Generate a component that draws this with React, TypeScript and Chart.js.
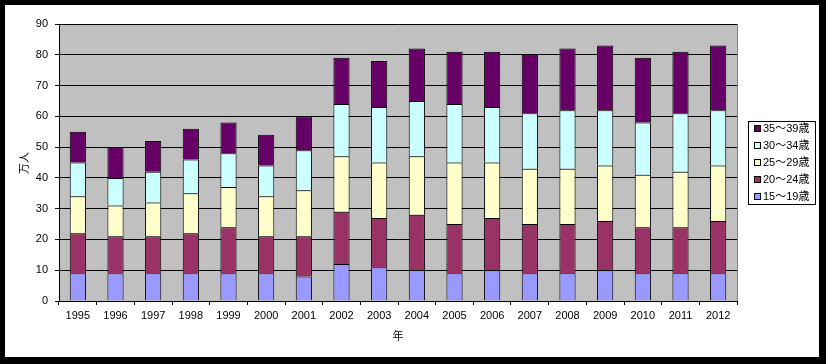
import React, { useEffect, useRef } from "react";
import { Chart, registerables } from "chart.js";

Chart.register(...registerables);

const years = ["1995","1996","1997","1998","1999","2000","2001","2002","2003","2004","2005","2006","2007","2008","2009","2010","2011","2012"];
const age15_19 = [9, 9, 9, 9, 9, 9, 8, 12, 11, 10, 9, 10, 9, 9, 10, 9, 9, 9];
const age20_24 = [13, 12, 12, 13, 15, 12, 13, 17, 16, 18, 16, 17, 16, 16, 16, 15, 15, 17];
const age25_29 = [12, 10, 11, 13, 13, 13, 15, 18, 18, 19, 20, 18, 18, 18, 18, 17, 18, 18];
const age30_34 = [11, 9, 10, 11, 11, 10, 13, 17, 18, 18, 19, 18, 18, 19, 18, 17, 19, 18];
const age35_39 = [10, 10, 10, 10, 10, 10, 11, 15, 15, 17, 17, 18, 19, 20, 21, 21, 20, 21];
const seriesLabels = ["15～19歳", "20～24歳", "25～29歳", "30～34歳", "35～39歳"];
const seriesColors = ["#9999FF", "#993366", "#FFFFCC", "#CCFFFF", "#660066"];
const yTicks = [0, 10, 20, 30, 40, 50, 60, 70, 80, 90];
const xTitle = "年";
const yTitle = "万人";

const FONT = "'Liberation Sans', Arial, 'Noto Sans CJK JP', sans-serif";

const framePlugin = {
  id: "frame",
  beforeDraw(chart: any) {
    const { ctx, width, height, chartArea } = chart;
    ctx.save();
    ctx.fillStyle = "#000";
    ctx.fillRect(0, 0, width, height);
    ctx.fillStyle = "#fff";
    ctx.fillRect(5, 5, width - 12, height - 12);
    ctx.fillStyle = "#C0C0C0";
    ctx.fillRect(chartArea.left, chartArea.top, chartArea.right - chartArea.left, chartArea.bottom - chartArea.top);
    ctx.restore();
  },
  afterDraw(chart: any) {
    const { ctx, chartArea } = chart;
    ctx.save();
    ctx.strokeStyle = "#808080";
    ctx.lineWidth = 1;
    ctx.beginPath();
    ctx.moveTo(chartArea.right + 0.5, chartArea.top);
    ctx.lineTo(chartArea.right + 0.5, chartArea.bottom);
    ctx.stroke();
    ctx.fillStyle = "#000";
    ctx.font = "11px " + FONT;
    ctx.textAlign = "center";
    ctx.textBaseline = "middle";
    ctx.fillText(xTitle, (chartArea.left + chartArea.right) / 2, 337);
    ctx.save();
    ctx.translate(25, 163);
    ctx.rotate(-Math.PI / 2);
    ctx.fillText(yTitle, 0, 0);
    ctx.restore();
    const bx = 748, by = 121, bw = 67, bh = 83;
    ctx.fillStyle = "#fff";
    ctx.fillRect(bx, by, bw, bh);
    ctx.strokeStyle = "#000";
    ctx.strokeRect(bx + 0.5, by + 0.5, bw, bh);
    const ds = chart.data.datasets;
    ctx.textAlign = "left";
    for (let i = 0; i < ds.length; i++) {
      const d = ds[ds.length - 1 - i];
      const cy = 129 + i * 17;
      ctx.fillStyle = d.backgroundColor;
      ctx.fillRect(754, cy - 4, 7, 7);
      ctx.strokeStyle = "#000";
      ctx.strokeRect(754.5, cy - 3.5, 6, 6);
      ctx.fillStyle = "#000";
      ctx.fillText(d.label, 763, cy);
    }
    ctx.restore();
  },
};

export default function App() {
  const ref = useRef<HTMLCanvasElement>(null);
  useEffect(() => {
    if (!ref.current) return;
    const data = [age15_19, age20_24, age25_29, age30_34, age35_39];
    const chart = new Chart(ref.current, {
      type: "bar",
      data: {
        labels: years,
        datasets: data.map((vals, i) => ({
          label: seriesLabels[i],
          data: vals,
          backgroundColor: seriesColors[i],
          borderColor: "#000",
          borderWidth: 1,
          borderSkipped: "start",
          barPercentage: 0.43,
          categoryPercentage: 1,
        })),
      },
      options: {
        responsive: false,
        animation: false,
        layout: { padding: { left: 0, right: 89, top: 24, bottom: 0 } },
        plugins: { legend: { display: false }, tooltip: { enabled: false } },
        scales: {
          x: {
            stacked: true,
            afterFit: (s: any) => { s.height = 63; },
            grid: { drawOnChartArea: false, tickLength: 4, color: "#000", offset: true },
            border: { color: "#000" },
            ticks: { color: "#000", font: { size: 11, family: FONT }, maxRotation: 0, autoSkip: false, padding: 4 },
          },
          y: {
            stacked: true,
            min: 0,
            max: 90,
            afterFit: (s: any) => { s.width = 59; },
            afterBuildTicks: (s: any) => { s.ticks = yTicks.map((v) => ({ value: v })); },
            grid: { color: "#000", tickLength: 4 },
            border: { color: "#000" },
            ticks: { color: "#000", font: { size: 11, family: FONT }, padding: 7 },
          },
        },
      },
      plugins: [framePlugin],
    });
    return () => chart.destroy();
  }, []);
  return (
    <div style={{ position: "absolute", left: 0, top: 0, width: 826, height: 364 }}>
      <canvas ref={ref} width={826} height={364} />
    </div>
  );
}
